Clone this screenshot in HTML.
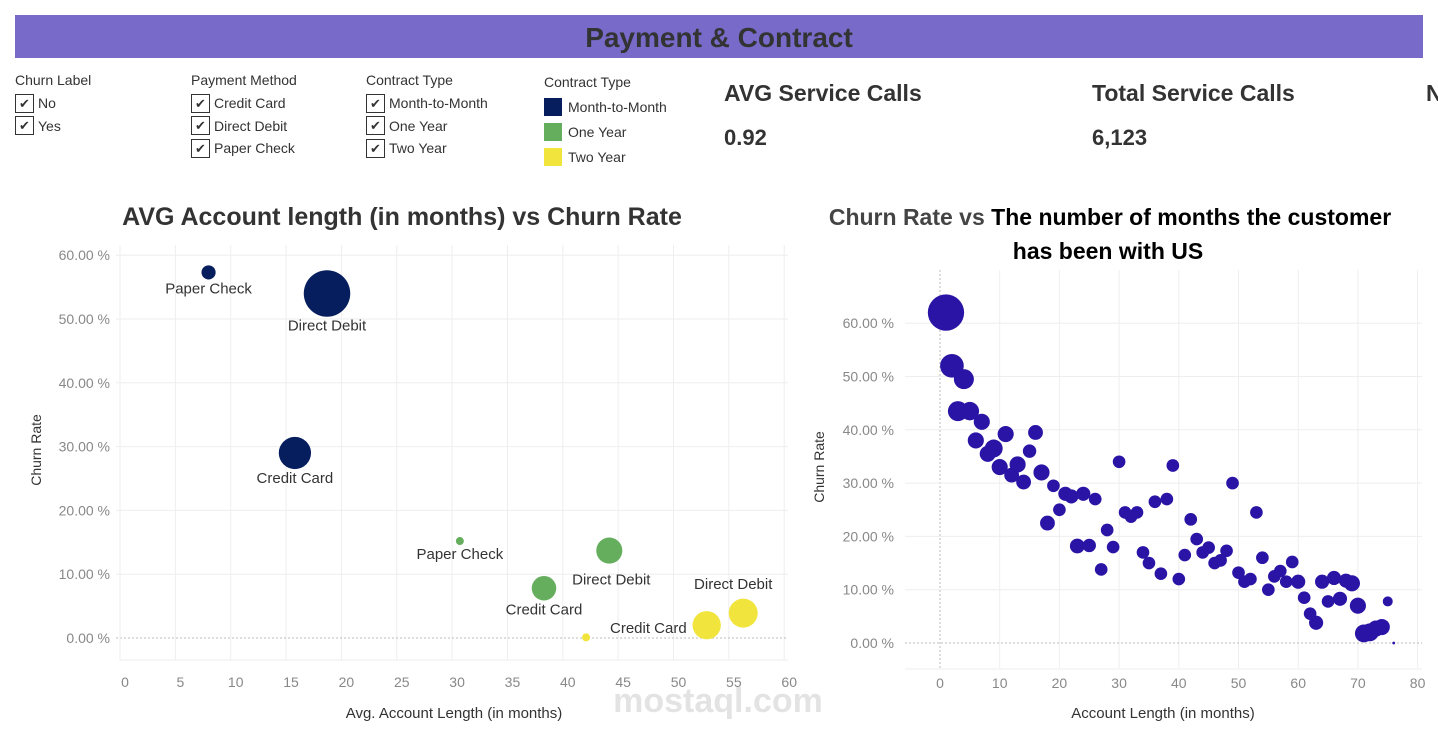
<!DOCTYPE html>
<html><head><meta charset="utf-8"><style>
body{margin:0;width:1438px;height:745px;background:#fff;font-family:"Liberation Sans Narrow","Liberation Sans",sans-serif;color:#333;overflow:hidden;position:relative}
.hdr{position:absolute;left:15px;top:15px;width:1408px;height:43px;background:#786ac9;text-align:center;font:bold 28px "Liberation Sans",sans-serif;line-height:45px;color:#333}
.flt{position:absolute;top:72px;font-size:14px}
.flt .t{margin-bottom:4px}
.row{height:22.5px;display:flex;align-items:center}
.cb{width:19px;height:19px;border:1px solid #333;box-sizing:border-box;display:inline-block;font-size:13px;line-height:18px;text-align:center;margin-right:4px}
.lg{width:18px;height:18px;display:inline-block;margin-right:6px}
.kt{position:absolute;top:80px;font:bold 23px "Liberation Sans",sans-serif;color:#333}
.kv{position:absolute;top:125px;font:bold 22px "Liberation Sans",sans-serif;color:#333}
svg text{font-family:"Liberation Sans Narrow","Liberation Sans",sans-serif}
</style></head><body>
<div class="hdr">Payment &amp; Contract</div>
<div class="flt" style="left:15px"><div class="t">Churn Label</div>
<div class="row"><span class="cb">✔</span>No</div>
<div class="row"><span class="cb">✔</span>Yes</div></div>
<div class="flt" style="left:191px"><div class="t">Payment Method</div>
<div class="row"><span class="cb">✔</span>Credit Card</div>
<div class="row"><span class="cb">✔</span>Direct Debit</div>
<div class="row"><span class="cb">✔</span>Paper Check</div></div>
<div class="flt" style="left:366px"><div class="t">Contract Type</div>
<div class="row"><span class="cb">✔</span>Month-to-Month</div>
<div class="row"><span class="cb">✔</span>One Year</div>
<div class="row"><span class="cb">✔</span>Two Year</div></div>
<div class="flt" style="left:544px;top:74px"><div class="t">Contract Type</div>
<div class="row" style="height:25px"><span class="lg" style="background:#071e5e"></span>Month-to-Month</div>
<div class="row" style="height:25px"><span class="lg" style="background:#65ae5d"></span>One Year</div>
<div class="row" style="height:25px"><span class="lg" style="background:#f0e43d"></span>Two Year</div></div>
<div class="kt" style="left:724px">AVG Service Calls</div>
<div class="kv" style="left:724px">0.92</div>
<div class="kt" style="left:1092px">Total Service Calls</div>
<div class="kv" style="left:1092px">6,123</div>
<div class="kt" style="left:1426px">N</div>

<svg id="s" width="1438" height="745" style="position:absolute;left:0;top:0">
<text x="402" y="225" text-anchor="middle" font-size="25" font-weight="bold" fill="#333" style="font-family:'Liberation Sans',sans-serif">AVG Account length (in months) vs Churn Rate</text>
<text x="1110" y="225" text-anchor="middle" font-size="23" font-weight="bold" style="font-family:'Liberation Sans',sans-serif"><tspan fill="#444">Churn Rate vs </tspan><tspan fill="#000">The number of months the customer</tspan></text>
<text x="1108" y="259" text-anchor="middle" font-size="23" font-weight="bold" fill="#000" style="font-family:'Liberation Sans',sans-serif">has been with US</text>
<g id="L"></g><g id="R"></g>
<text x="718" y="712" text-anchor="middle" font-size="34" font-weight="bold" fill="#ddd" opacity="0.8">mostaql.com</text>
</svg>
<script>
const NS="http://www.w3.org/2000/svg";
function mk(p,t,a,txt){const e=document.createElementNS(NS,t);for(const k in a)e.setAttribute(k,a[k]);if(txt!=null)e.textContent=txt;p.appendChild(e);return e;}
// Left chart data
const leftLabels=["Paper Check","Direct Debit","Credit Card","Paper Check","Direct Debit","Credit Card","Paper Check","Credit Card","Direct Debit"];
const leftContract=["Month-to-Month","Month-to-Month","Month-to-Month","One Year","One Year","One Year","Two Year","Two Year","Two Year"];
const leftLength=[8.0,18.7,15.8,30.7,44.2,38.3,42.1,53.0,56.3];
const leftChurn=[57.3,54.0,29.0,15.2,13.7,7.8,0.1,2.0,3.9];
const leftCount=[50,540,260,16,170,150,16,200,210];
const leftXTicks=[0,5,10,15,20,25,30,35,40,45,50,55,60];
const leftYTicks=[0,10,20,30,40,50,60];
const colors={"Month-to-Month":"#071e5e","One Year":"#65ae5d","Two Year":"#f0e43d"};
// Right chart data
const rightMonths=[1,2,4,3,5,7,6,9,8,11,10,12,13,14,16,15,17,19,21,22,24,26,20,18,23,25,27,28,29,30,31,32,33,34,35,36,37,38,39,40,41,42,43,44,45,46,47,48,49,50,51,52,53,54,55,56,57,58,59,60,61,62,63,64,65,66,67,68,69,70,71,72,73,74,75,76];
const rightChurn=[62,52,49.5,43.5,43.5,41.5,38,36.5,35.5,39.2,33,31.5,33.5,30.2,39.5,36,32,29.5,28,27.5,28,27,25,22.5,18.2,18.3,13.8,21.2,18,34,24.5,23.7,24.5,17,15,26.5,13,27,33.3,12,16.5,23.2,19.5,17,17.9,15,15.5,17.3,30,13.2,11.5,12,24.5,16,10,12.5,13.5,11.5,15.2,11.5,8.5,5.5,3.8,11.5,7.8,12.2,8.3,11.7,11.2,7,1.8,2,2.7,3,7.8,0];
const rightCustomers=[330,140,100,100,85,65,65,80,65,65,65,55,65,55,55,45,65,40,50,50,50,40,40,55,55,45,40,40,40,40,40,40,40,40,40,40,40,40,40,40,40,40,40,40,40,40,40,40,40,40,40,40,40,40,40,40,40,40,40,50,40,40,50,50,40,50,50,50,65,65,80,80,65,65,25,2];
const rightXTicks=[0,10,20,30,40,50,60,70,80];
const rightYTicks=[0,10,20,30,40,50,60];

// left
(function(){const g=document.getElementById('L');
const x=v=>120+v*11.07, y=v=>638-v*6.38, rr=c=>Math.sqrt(c)*1.0;
mk(g,'rect',{x:120,y:245,width:668,height:415,fill:'none'});
leftXTicks.forEach(t=>{const l=mk(g,'line',{x1:x(t),x2:x(t),y1:245,y2:660,stroke:'#eee'});
const tx=mk(g,'text',{x:x(t)+5,y:687,'text-anchor':'middle','font-size':14,fill:'#888'},t);});
leftYTicks.forEach(t=>{mk(g,'line',{x1:116,x2:788,y1:y(t),y2:y(t),stroke:t==0?'#bbb':'#eee','stroke-dasharray':t==0?'2,2':''});
const tx=mk(g,'text',{x:110,y:y(t)+5,'text-anchor':'end','font-size':14,fill:'#888'},t.toFixed(2)+' %');});
mk(g,'line',{x1:120,x2:120,y1:245,y2:660,stroke:'#eee'});
mk(g,'line',{x1:120,x2:788,y1:660,y2:660,stroke:'#eee'});
const yt=mk(g,'text',{x:41,y:450,'text-anchor':'middle','font-size':14,fill:'#333',transform:'rotate(-90 41 450)',style:"font-family:'Liberation Sans',sans-serif"},'Churn Rate');
const xt=mk(g,'text',{x:454,y:718,'text-anchor':'middle','font-size':15,fill:'#333'},'Avg. Account Length (in months)');
const off=[[0,1],[0,1],[0,1],[0,1],[-1,1],[0,1],[0,0],[-1,1],[-1,-1]];
leftLength.forEach((v,i)=>{const r=rr(leftCount[i]);
const c=mk(g,'circle',{cx:x(v),cy:y(leftChurn[i]),r:r,fill:colors[leftContract[i]]});
let lx=x(v),ly=y(leftChurn[i])+r+14,anc='middle';
if(i==4){lx=x(v)+2;ly=y(leftChurn[i])+r+21;}
if(i==7){lx=x(v)-20;ly=y(leftChurn[i])+8;anc='end';}
if(i==8){lx=x(v)-10;ly=y(leftChurn[i])-24;anc='middle';}
if(i==6)continue_=true;
if(i!=6){const t=mk(g,'text',{x:lx,y:ly,'text-anchor':anc,'font-size':15,fill:'#333'},leftLabels[i]);}
});})();
var continue_;
// right
(function(){const g=document.getElementById('R');
const x=v=>940+v*5.97, y=v=>643-v*5.33, rr=c=>Math.sqrt(c)*1.0;
rightXTicks.forEach(t=>{mk(g,'line',{x1:x(t),x2:x(t),y1:270,y2:668,stroke:t==0?'#bbb':'#eee','stroke-dasharray':t==0?'2,2':''});
const tx=mk(g,'text',{x:x(t),y:688,'text-anchor':'middle','font-size':14,fill:'#888'},t);});
rightYTicks.forEach(t=>{mk(g,'line',{x1:905,x2:1422,y1:y(t),y2:y(t),stroke:t==0?'#bbb':'#eee','stroke-dasharray':t==0?'2,2':''});
const tx=mk(g,'text',{x:894,y:y(t)+5,'text-anchor':'end','font-size':14,fill:'#888'},t.toFixed(2)+' %');});
mk(g,'line',{x1:905,x2:1422,y1:669,y2:669,stroke:'#eee'});
const yt=mk(g,'text',{x:824,y:467,'text-anchor':'middle','font-size':14,fill:'#333',transform:'rotate(-90 824 467)',style:"font-family:'Liberation Sans',sans-serif"},'Churn Rate');
const xt=mk(g,'text',{x:1163,y:718,'text-anchor':'middle','font-size':15,fill:'#333'},'Account Length (in months)');
rightMonths.forEach((m,i)=>{const c=mk(g,'circle',{cx:x(m),cy:y(rightChurn[i]),r:Math.max(1,rr(rightCustomers[i])),fill:'#2a14a6'});});
})();
</script>
</body></html>
